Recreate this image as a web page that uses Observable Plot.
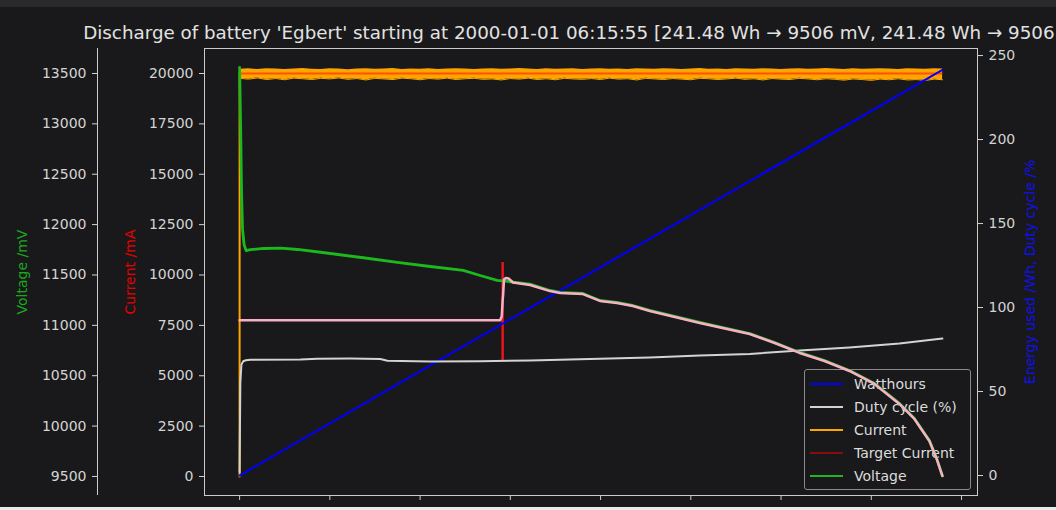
<!DOCTYPE html>
<html>
<head>
<meta charset="utf-8">
<script src="https://cdn.jsdelivr.net/npm/d3@7"></script>
<script src="https://cdn.jsdelivr.net/npm/@observablehq/plot@0.6"></script>
<style>
html,body{margin:0;padding:0;background:#19191b;overflow:hidden;}
#wrap{position:relative;width:1056px;height:510px;overflow:hidden;background:#19191b;font-family:"DejaVu Sans",sans-serif;}
#wrap svg{position:absolute;left:0;top:0;}
#title{position:absolute;left:0;top:22px;width:1181px;text-align:center;white-space:nowrap;font-size:18.3px;line-height:22px;color:#e2e2e2;}
#topstrip{position:absolute;left:0;top:0;width:1056px;height:7px;background:#2a2a2c;}
#botstrip{position:absolute;left:0;top:507px;width:1056px;height:3px;background:#e9e9e9;}
#legend{position:absolute;left:804px;top:369px;width:165px;height:117px;border:1px solid #8a8a8a;border-radius:3px;background:rgba(25,25,27,0.8);padding-top:2px;box-sizing:content-box;}
.row{height:23px;display:flex;align-items:center;font-size:14px;color:#dcdcdc;}
.sw{width:33px;height:2px;margin-left:5px;margin-right:11px;}
</style>
</head>
<body>
<div id="wrap"></div>
<script>
// ---------------- data ----------------
const titleText = "Discharge of battery 'Egbert' starting at 2000-01-01 06:15:55 [241.48 Wh \u2192 9506 mV, 241.48 Wh \u2192 9506 mV]";

// time axis (hours since start)
const xTicks = [0, 1, 2, 3, 4, 5, 6, 7, 8];
const xDomain = [-0.389, 8.177];

// Voltage /mV
const voltT = [0,0.011,0.022,0.033,0.05,0.072,0.12,0.265,0.454,0.642,1.007,1.372,1.748,2.113,2.478,2.666,2.854,3.031,3.219,3.44,3.551,3.805,3.993,4.181,4.358,4.546,4.823,5.1,5.653,5.929,6.206,6.482,6.759,7.035,7.312,7.478,7.644,7.721,7.788];
const voltMv = [13560,13000,12300,11950,11800,11742,11752,11763,11766,11753,11713,11671,11624,11584,11545,11495,11446,11430,11410,11346,11327,11316,11247,11227,11197,11148,11088,11029,10919,10830,10731,10651,10552,10423,10225,10076,9857,9689,9506];

// pink voltage trace /mV
const pinkT = [0,2.887,2.905,2.915,2.92,2.93,2.95,2.98,3.03,3.219,3.44,3.551,3.805,3.993,4.181,4.358,4.546,4.823,5.1,5.653,5.929,6.206,6.482,6.759,7.035,7.312,7.478,7.644,7.721,7.788];
const pinkMv = [11050,11050,11090,11250,11300,11455,11470,11465,11425,11400,11340,11322,11310,11242,11222,11192,11143,11083,11024,10914,10825,10726,10646,10547,10418,10220,10071,9852,9684,9506];

// Watthours
const whT = [0, 7.788];
const whVal = [0, 241.48];

// Duty cycle %
const dutyT = [0,0.008,0.02,0.04,0.07,0.12,0.675,0.863,1.228,1.56,1.637,2.11,2.666,3.219,3.993,4.546,5.1,5.653,6.206,6.759,7.312,7.788];
const dutyPct = [2,55,66,68,68.6,68.9,69.0,69.5,69.6,69.4,68.3,67.9,68.0,68.5,69.5,70.2,71.4,72.4,74.4,76.2,78.6,81.5];

// Current /mA : start and noisy band (min / max envelope)
const curRiseT = [0, 0];
const curRiseMa = [0, 20000];
const bandT = [0,0.1,0.2,0.3,0.4,0.5,0.6,0.7,0.8,0.9,
  1.0,1.1,1.2,1.3,1.4,1.5,1.6,1.7,1.8,1.9,
  2.0,2.1,2.2,2.3,2.4,2.5,2.6,2.7,2.8,2.9,
  3.0,3.1,3.2,3.3,3.4,3.5,3.6,3.7,3.8,3.9,
  4.0,4.1,4.2,4.3,4.4,4.5,4.6,4.7,4.8,4.9,
  5.0,5.1,5.2,5.3,5.4,5.5,5.6,5.7,5.8,5.9,
  6.0,6.1,6.2,6.3,6.4,6.5,6.6,6.7,6.8,6.9,
  7.0,7.1,7.2,7.3,7.4,7.5,7.6,7.7,7.79];
const bandHi = [20210,20230,20200,20240,20220,20200,20220,20250,20210,20200,
  20230,20220,20190,20220,20240,20210,20220,20250,20200,20220,
  20210,20230,20200,20220,20240,20220,20200,20220,20230,20210,
  20220,20250,20220,20200,20230,20210,20220,20240,20200,20220,
  20230,20210,20220,20200,20240,20220,20210,20230,20220,20200,
  20220,20250,20210,20220,20200,20230,20220,20210,20240,20220,
  20200,20220,20230,20210,20220,20250,20220,20200,20230,20210,
  20220,20240,20220,20200,20230,20220,20210,20240,20220];
const bandLo = [19760,19720,19780,19700,19750,19690,19770,19740,19700,19760,
  19730,19780,19710,19750,19680,19760,19730,19700,19770,19740,
  19690,19750,19720,19770,19700,19740,19760,19710,19730,19680,
  19750,19720,19770,19700,19740,19690,19760,19730,19710,19750,
  19700,19770,19720,19740,19680,19760,19730,19700,19750,19720,
  19690,19760,19740,19700,19730,19770,19710,19740,19680,19750,
  19720,19700,19760,19730,19690,19740,19710,19670,19730,19700,
  19660,19720,19690,19740,19680,19700,19660,19720,19690];

// Target current /mA
const targetT = [0, 7.788];
const targetMa = [20000, 20000];

// red marker line
const markT = [2.915];
const markLo = [5760];
const markHi = [10620];

// ticks
const curTicks = [0,2500,5000,7500,10000,12500,15000,17500,20000];
const voltTicks = [9500,10000,10500,11000,11500,12000,12500,13000,13500];
const energyTicks = [0,50,100,150,200,250];

// legend
const legendNames = ["Watthours","Duty cycle (%)","Current","Target Current","Voltage"];
const legendColors = ["#0000ff","#d3d3d3","#ffa500","rgba(255,0,0,0.5)","#1db81d"];

// ---------------- build ----------------
(function () {
const volt = voltT.map((t,i)=>({t, v: voltMv[i]}));
const pink = pinkT.map((t,i)=>({t, v: pinkMv[i]}));
const wh = whT.map((t,i)=>({t, v: whVal[i]}));
const duty = dutyT.map((t,i)=>({t, v: dutyPct[i]}));
const rise = curRiseT.map((t,i)=>({t, v: curRiseMa[i]}));
const band = bandT.map((t,i)=>({t, lo: bandLo[i], hi: bandHi[i]}));
const target = targetT.map((t,i)=>({t, v: targetMa[i]}));
const marker = markT.map((t,i)=>({t, lo: markLo[i], hi: markHi[i]}));

const axisColor = "#d4d4d4";
const common = {
  width: 1056, height: 510,
  marginLeft: 204, marginRight: 79, marginTop: 48, marginBottom: 15,
  style: {background: "transparent", color: axisColor, fontFamily: "DejaVu Sans", fontSize: "14px", overflow: "visible"}
};
const wrap = document.getElementById("wrap");

const topStrip = document.createElement("div"); topStrip.id = "topstrip"; wrap.appendChild(topStrip);

// Layer 1: current axis
const p1 = Plot.plot({
  ...common,
  x: {domain: xDomain},
  y: {domain: [-943, 21241]},
  marks: [
    Plot.frame({stroke: "#cbcbcb"}),
    Plot.axisX(xTicks, {tickSize: 5, tickFormat: () => "", stroke: "#cbcbcb", label: null}),
    Plot.axisY(curTicks, {anchor: "left", tickSize: 5, tickPadding: 6, tickFormat: "d", label: null}),
    Plot.text(["Current /mA"], {text: d => d, frameAnchor: "left", dx: -74, rotate: -90, fill: "#e60000", textAnchor: "middle", lineAnchor: "middle", fontSize: 14}),
    Plot.areaY(band, {x: "t", y1: "lo", y2: "hi", fill: "#ffa500"}),
    Plot.line(band, {x: "t", y: "lo", stroke: "#ffa500", strokeWidth: 1}),
    Plot.line(rise, {x: "t", y: "v", stroke: "#ffa500", strokeWidth: 2}),
    Plot.line(target, {x: "t", y: "v", stroke: "red", strokeOpacity: 0.5, strokeWidth: 2}),
    Plot.ruleX(marker, {x: "t", y1: "lo", y2: "hi", stroke: "#e8141c", strokeWidth: 2.5})
  ]
});
wrap.appendChild(p1);

// Layer 2: energy / duty cycle axis (right)
const p2 = Plot.plot({
  ...common,
  x: {domain: xDomain, axis: null},
  y: {domain: [-11.9, 254.2]},
  marks: [
    Plot.axisY(energyTicks, {anchor: "right", tickSize: 5, tickPadding: 6, tickFormat: "d", label: null}),
    Plot.text(["Energy used /Wh, Duty cycle /%"], {text: d => d, frameAnchor: "right", dx: 53, rotate: -90, fill: "#1010ee", textAnchor: "middle", lineAnchor: "middle", fontSize: 14}),
    Plot.line(wh, {x: "t", y: "v", stroke: "#0000ff", strokeWidth: 2}),
    Plot.line(duty, {x: "t", y: "v", stroke: "#d3d3d3", strokeWidth: 2})
  ]
});
wrap.appendChild(p2);

// Legend
const leg = document.createElement("div");
leg.id = "legend";
legendNames.forEach((n, i) => {
  const r = document.createElement("div"); r.className = "row";
  const s = document.createElement("div"); s.className = "sw"; s.style.background = legendColors[i];
  const tx = document.createElement("span"); tx.textContent = n;
  r.appendChild(s); r.appendChild(tx); leg.appendChild(r);
});
wrap.appendChild(leg);

// Layer 3: voltage axis (offset left)
const p3 = Plot.plot({
  ...common,
  x: {domain: xDomain, axis: null},
  y: {domain: [9311, 13748]},
  marks: [
    Plot.ruleX([xDomain[0]], {dx: -107, stroke: "#cbcbcb"}),
    Plot.axisY(voltTicks, {anchor: "left", dx: -107, tickSize: 5, tickPadding: 6, tickFormat: "d", label: null}),
    Plot.text(["Voltage /mV"], {text: d => d, frameAnchor: "left", dx: -182, rotate: -90, fill: "#1aa81a", textAnchor: "middle", lineAnchor: "middle", fontSize: 14}),
    Plot.line(volt, {x: "t", y: "v", stroke: "#1db81d", strokeWidth: 2.8}),
    Plot.line(pink, {x: "t", y: "v", stroke: "#f9b0c6", strokeWidth: 2.5})
  ]
});
wrap.appendChild(p3);

const titleDiv = document.createElement("div"); titleDiv.id = "title"; titleDiv.textContent = titleText; wrap.appendChild(titleDiv);
const botStrip = document.createElement("div"); botStrip.id = "botstrip"; wrap.appendChild(botStrip);
})();
</script>
</body>
</html>
